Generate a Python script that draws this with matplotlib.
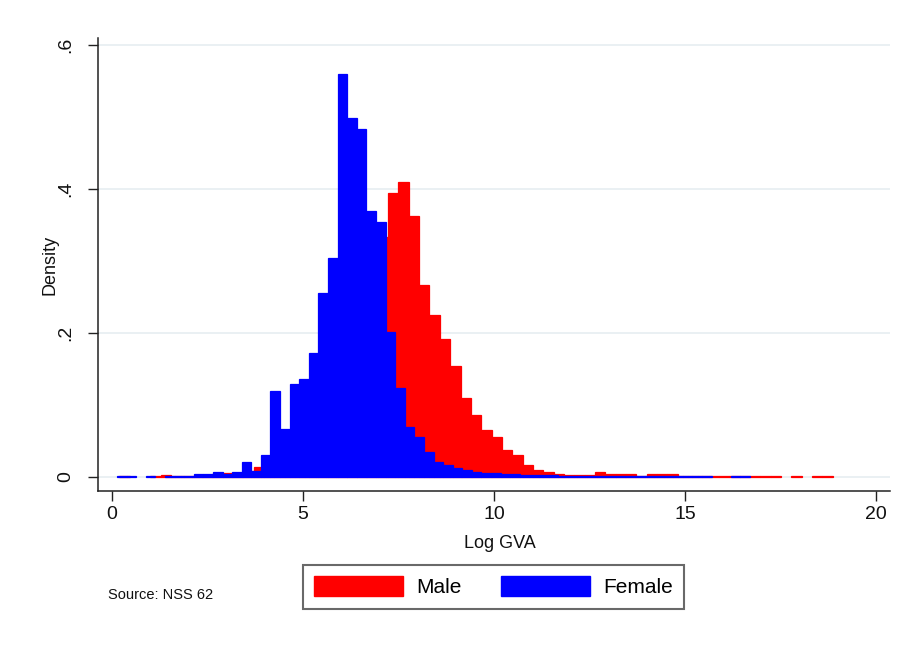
import numpy as np
import matplotlib
matplotlib.use('Agg')
import matplotlib.pyplot as plt
from matplotlib.patches import Patch

plt.rcParams['font.family'] = ['Liberation Sans', 'DejaVu Sans']

# histogram bins (density)
male_start = 0.192
male_width = 0.2707
male_density = [
    0.001, 0.0, 0.0, 0.001, 0.003, 0.001, 0.0015, 0.002, 0.003, 0.004,
    0.005, 0.006, 0.008, 0.0135, 0.02, 0.03, 0.04, 0.05, 0.065, 0.085,
    0.11, 0.15, 0.19, 0.24, 0.29, 0.334, 0.395, 0.410, 0.3625, 0.267,
    0.225, 0.192, 0.154, 0.110, 0.086, 0.065, 0.056, 0.0375, 0.0306, 0.0167,
    0.0097, 0.0065, 0.004, 0.003, 0.0025, 0.003, 0.007, 0.004, 0.004, 0.004,
    0.002, 0.004, 0.004, 0.004, 0.002, 0.002, 0.002, 0.0015, 0.0015, 0.0015,
    0.0015, 0.0015, 0.0015, 0.0015, 0.0, 0.0015, 0.0, 0.0015, 0.0015,
]

female_start = 0.132
female_width = 0.2511
female_density = [
    0.001, 0.001, 0.0, 0.001, 0.0, 0.0015, 0.0015, 0.0015, 0.004, 0.004,
    0.0065, 0.004, 0.0074, 0.021, 0.009, 0.0306, 0.119, 0.067, 0.129, 0.136,
    0.172, 0.255, 0.304, 0.56, 0.499, 0.483, 0.37, 0.354, 0.202, 0.124,
    0.070, 0.056, 0.035, 0.021, 0.017, 0.012, 0.010, 0.007, 0.006, 0.005,
    0.004, 0.004, 0.003, 0.003, 0.003, 0.0025, 0.002, 0.002, 0.002, 0.002,
    0.002, 0.002, 0.0018, 0.0018, 0.0018, 0.0015, 0.0015, 0.0015, 0.0015, 0.0015,
    0.0015, 0.0015, 0.0, 0.0, 0.0015, 0.0015,
]

x_ticks = [0, 5, 10, 15, 20]
y_ticks = [0, 0.2, 0.4, 0.6]
y_ticklabels = ['0', '.2', '.4', '.6']

W, H = 902, 662
fig = plt.figure(figsize=(W / 100, H / 100), dpi=100)
# plot region in pixels: left 98, right 890, top 38, bottom 491
ax = fig.add_axes([98 / W, 1 - 491 / H, (890 - 98) / W, (491 - 38) / H])


def draw_hist(start, width, dens, color):
    dens = np.array(dens)
    left = start + width * np.arange(len(dens))
    lw = [0.9 if d > 0 else 0 for d in dens]
    ax.bar(left, dens, width=width, align='edge', color=color,
           edgecolor=color, linewidth=lw, zorder=2)


draw_hist(male_start, male_width, male_density, '#ff0000')
draw_hist(female_start, female_width, female_density, '#0000ff')

ax.set_xlim(-0.366, 20.37)
ax.set_ylim(-0.0194, 0.6097)
ax.set_xticks(x_ticks)
ax.set_yticks(y_ticks)
ax.set_yticklabels(y_ticklabels, rotation=90, va='center')

for s in ['top', 'right']:
    ax.spines[s].set_visible(False)
for s in ['left', 'bottom']:
    ax.spines[s].set_color('#222222')
    ax.spines[s].set_linewidth(1.1)

ax.tick_params(axis='both', length=7, width=1.0, color='#222222',
               labelsize=14, labelcolor='#111111')
ax.tick_params(axis='x', pad=4)
ax.tick_params(axis='y', pad=10)
ax.grid(axis='y', color='#e8eff2', linewidth=1.3, zorder=0)
ax.set_axisbelow(True)

fig.text(500 / W, 1 - 543 / H, 'Log GVA', ha='center', va='center',
         fontsize=13, color='#111111')
fig.text(50 / W, 1 - 265 / H, 'Density', ha='center', va='center',
         rotation=90, fontsize=13, color='#111111')
fig.text(108 / W, 1 - 595 / H, 'Source: NSS 62', ha='left', va='center',
         fontsize=10.5, color='#111111')

handles = [Patch(facecolor='#ff0000', edgecolor='#ff0000', label='Male'),
           Patch(facecolor='#0000ff', edgecolor='#0000ff', label='Female')]
leg = fig.legend(handles=handles, loc='center', ncol=2,
                 bbox_to_anchor=(493.5 / W, 1 - 586.5 / H),
                 fontsize=15, frameon=True, fancybox=False,
                 handlelength=4.25, handleheight=1.1, handletextpad=0.65,
                 columnspacing=1.9, borderpad=0.55)
leg.get_frame().set_edgecolor('#444444')
leg.get_frame().set_linewidth(1.5)

fig.savefig('out.png', dpi=100, facecolor='white')
